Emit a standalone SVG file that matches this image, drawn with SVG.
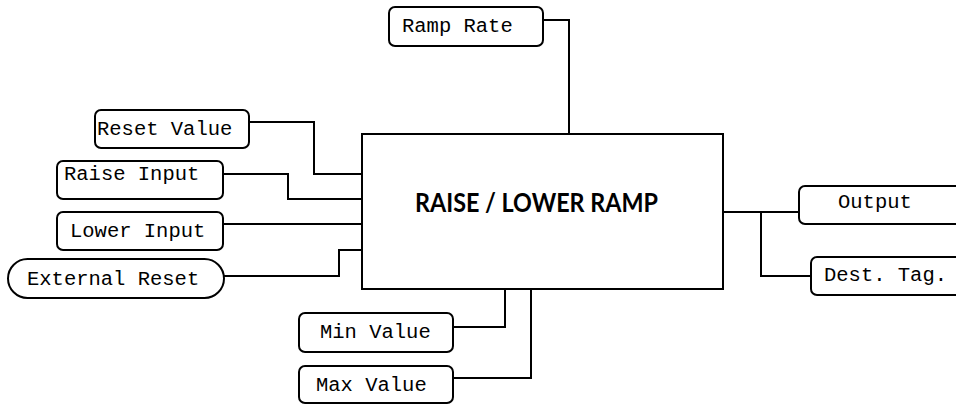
<svg xmlns="http://www.w3.org/2000/svg" width="956" height="405" viewBox="0 0 956 405">
<style>
.box{fill:#fff;stroke:#000;stroke-width:2}
.lbl{font-family:"Liberation Mono","DejaVu Sans Mono",monospace;font-size:20.5px;fill:#000}
.wire{fill:none;stroke:#000;stroke-width:2}
.title{font-family:"Lato","Liberation Sans",Arial,sans-serif;font-size:26px;font-weight:bold;fill:#000}
</style>
<rect width="956" height="405" fill="#fff"/>
<g id="connectors">
<polyline class="wire" points="543,20 569,20 569,134"/>
<polyline class="wire" points="249,122 314,122 314,174 362,174"/>
<polyline class="wire" points="223,174 288,174 288,199 362,199"/>
<polyline class="wire" points="223,224 362,224"/>
<polyline class="wire" points="224,276 339,276 339,250 362,250"/>
<polyline class="wire" points="723,212 799,212"/>
<polyline class="wire" points="761,212 761,276 811,276"/>
<polyline class="wire" points="453,327 505,327 505,289"/>
<polyline class="wire" points="453,378 531,378 531,289"/>
</g>
<g id="main">
<rect class="box" x="362" y="134" width="361" height="155"/>
<text class="title" x="415" y="212" textLength="243" lengthAdjust="spacingAndGlyphs">RAISE / LOWER RAMP</text>
</g>
<g id="ramp-rate">
<rect class="box" x="389" y="7" width="154" height="39" rx="6"/>
<text class="lbl" x="402" y="32">Ramp Rate</text>
</g>
<g id="reset-value">
<rect class="box" x="95" y="110" width="154" height="38" rx="6"/>
<text class="lbl" x="97" y="135">Reset Value</text>
</g>
<g id="raise-input">
<rect class="box" x="57" y="161" width="166" height="38" rx="6"/>
<text class="lbl" x="64" y="180">Raise Input</text>
</g>
<g id="lower-input">
<rect class="box" x="57" y="212" width="166" height="38" rx="6"/>
<text class="lbl" x="70" y="237">Lower Input</text>
</g>
<g id="external-reset">
<rect class="box" x="8" y="259" width="216" height="39" rx="19.5"/>
<text class="lbl" x="27" y="285">External Reset</text>
</g>
<g id="output">
<rect class="box" x="799" y="186" width="180" height="38" rx="6"/>
<text class="lbl" x="838" y="208">Output</text>
</g>
<g id="dest-tag">
<rect class="box" x="811" y="257" width="180" height="38" rx="6"/>
<text class="lbl" x="824" y="281">Dest. Tag.</text>
</g>
<g id="min-value">
<rect class="box" x="299" y="313" width="154" height="39" rx="6"/>
<text class="lbl" x="320" y="338">Min Value</text>
</g>
<g id="max-value">
<rect class="box" x="299" y="366" width="154" height="37" rx="6"/>
<text class="lbl" x="316" y="391">Max Value</text>
</g>
</svg>
